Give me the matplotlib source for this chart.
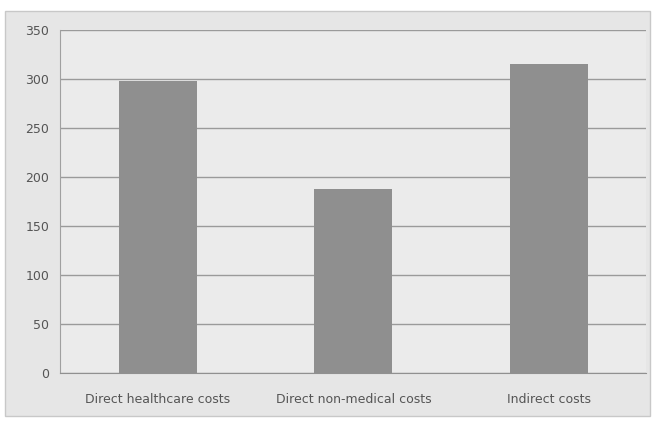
import matplotlib.pyplot as plt

categories = ['Direct healthcare costs', 'Direct non-medical costs', 'Indirect costs']
values = [298, 188, 315]
yticks = [0, 50, 100, 150, 200, 250, 300, 350]

fig = plt.figure(figsize=(6.55, 4.24), dpi=100, facecolor='white')
# chart area panel (scanned grey background)
fig.patches.append(plt.Rectangle((0.008, 0.02), 0.985, 0.955, transform=fig.transFigure,
                                 facecolor='#e6e6e6', edgecolor='#c8c8c8', lw=1, zorder=-5))
ax = fig.add_axes([0.092, 0.12, 0.895, 0.81])
ax.set_facecolor('#ebebeb')

x = range(len(categories))
ax.bar(x, values, width=0.4, color='#8f8f8f', zorder=3)

ax.set_ylim(0, 350)
ax.set_xlim(-0.5, 2.5)
ax.set_yticks(yticks)
ax.set_xticks(list(x))
ax.set_xticklabels(categories)
ax.grid(axis='y', color='#9a9a9a', linewidth=1.0, zorder=1)
ax.tick_params(axis='both', length=0, labelsize=9, colors='#555555', pad=8)
ax.tick_params(axis='x', pad=14)
for side in ['top', 'right']:
    ax.spines[side].set_visible(False)
ax.spines['left'].set_color('#a0a0a0')
ax.spines['bottom'].set_color('#909090')

fig.savefig('out.png', dpi=100)
